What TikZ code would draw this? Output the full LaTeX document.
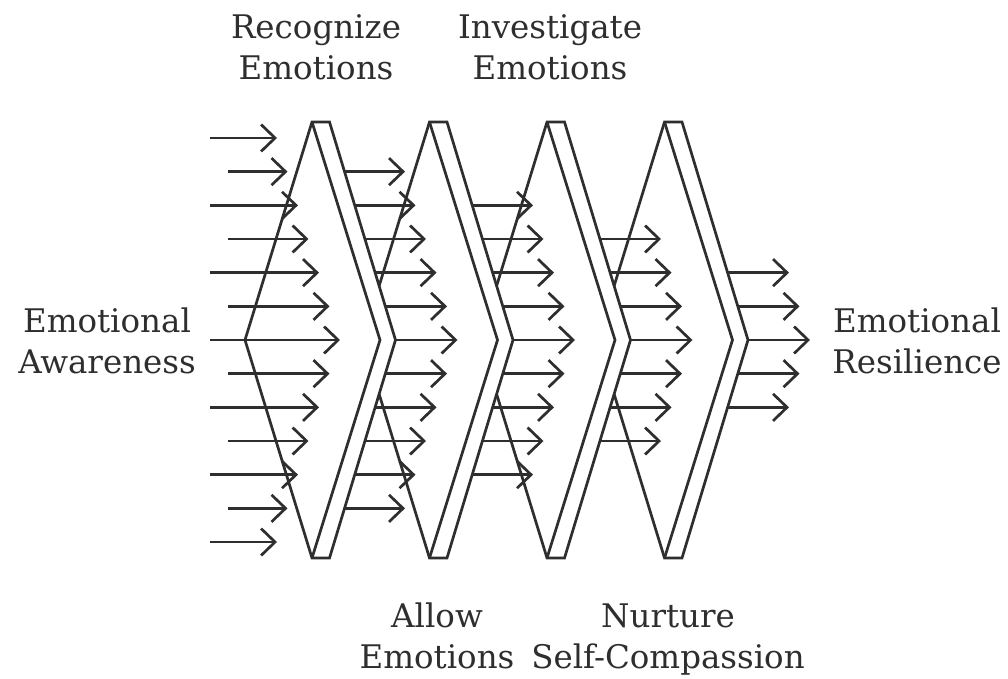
\documentclass[tikz,border=0pt]{standalone}
\usepackage{fontspec}
\setmainfont{DejaVu Serif}
\usetikzlibrary{arrows.meta}
\definecolor{ink}{HTML}{2E2E2E}
\begin{document}
\begin{tikzpicture}[x=1pt,y=-1pt,line width=2.7pt,
  panel/.style={fill=white,draw=ink,line join=miter},
  inner/.style={draw=ink,line join=miter},
  arr/.style={draw=ink,-{Straight Barb[length=14pt,width=27pt,line width=2.7pt]}},
  lbl/.style={text=ink,align=center,inner sep=0pt,font=\fontsize{32.5}{41}\selectfont}]
\useasboundingbox (0,0) rectangle (1008,679);
% panels, drawn from right to left so each covers the next one
\foreach \k in {4,3,2,1}{
  \pgfmathsetmacro\T{312+117.5*(\k-1)}
  \path[panel] (\T-67,340) -- (\T,122) -- (\T+17.5,122) -- (\T+83.5,340) -- (\T+17.5,558) -- (\T,558) -- cycle;
  \path[inner] (\T,122) -- (\T+68,340) -- (\T,558);
}
% arrows
\foreach \c in {1,...,5}{
  \pgfmathtruncatemacro\m{7-\c}
  \foreach \j in {-\m,...,\m}{
    \pgfmathsetmacro\y{340+33.67*\j}
    \pgfmathsetmacro\f{1-abs(\y-340)/218}
    \pgfmathsetmacro\tip{312+117.5*(\c-1)+68*\f-40}
    \pgfmathsetmacro\start{(\c==1)*(210+18*mod(abs(\j),2))+(\c>1)*(312+117.5*(\c-2)+17.5+66*\f)}
    \coordinate (s\c x\j) at (\start,\y);
    \coordinate (t\c x\j) at (\tip,\y);
    \draw[arr] (s\c x\j) -- (t\c x\j);
  }
}
% labels
\node[lbl] (recog) at (316,51) {\strut Recognize\\\strut Emotions};
\node[lbl] (invest) at (550,51) {\strut Investigate\\\strut Emotions};
\node[lbl] (allow) at (437,640) {\strut Allow\\\strut Emotions};
\node[lbl] (nurture) at (668,640) {\strut Nurture\\\strut Self-Compassion};
\node[lbl] (aware) at (107,345) {\strut Emotional\\\strut Awareness};
\node[lbl] (resil) at (917,345) {\strut Emotional\\\strut Resilience};
\end{tikzpicture}
\end{document}
